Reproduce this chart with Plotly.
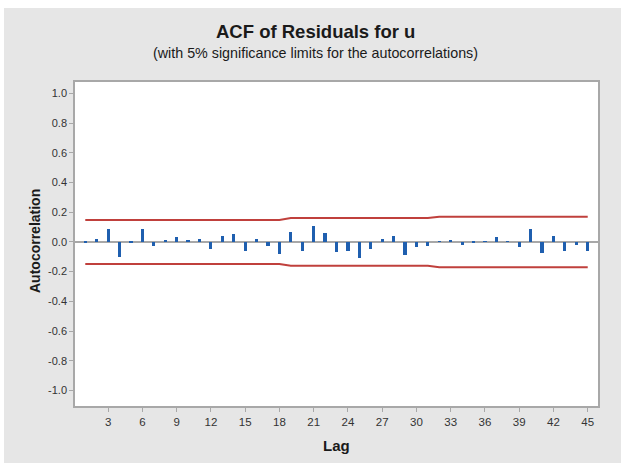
import plotly.graph_objects as go

lags = list(range(1, 46))
acf = [-0.01, 0.02, 0.09, -0.10, -0.01, 0.085, -0.03, 0.01, 0.03, 0.01,
       0.02, -0.045, 0.04, 0.055, -0.06, 0.02, -0.03, -0.08, 0.07, -0.06,
       0.11, 0.06, -0.07, -0.06, -0.11, -0.045, 0.02, 0.04, -0.09, -0.035,
       -0.03, 0.003, 0.01, -0.02, -0.01, 0.005, 0.03, 0.003, -0.035, 0.09,
       -0.075, 0.04, -0.06, -0.02, -0.06]
upper = [0.148] * 18 + [0.161] * 13 + [0.170] * 14
lower = [-v for v in upper]
x_ticks = list(range(3, 46, 3))
y_ticks = [-1.0, -0.8, -0.6, -0.4, -0.2, 0.0, 0.2, 0.4, 0.6, 0.8, 1.0]

BAR = "#1F5FAF"
RED = "#C0403C"
GRAY_BG = "#E6E6E6"
FRAME = "#A8A8A8"
FONT = "Liberation Sans, Arial, sans-serif"

fig = go.Figure()
fig.add_trace(go.Bar(x=lags, y=acf, width=0.28, marker=dict(color=BAR, line=dict(width=0)),
                     showlegend=False))
fig.add_trace(go.Scatter(x=lags, y=upper, mode="lines", line=dict(color=RED, width=2),
                         showlegend=False))
fig.add_trace(go.Scatter(x=lags, y=lower, mode="lines", line=dict(color=RED, width=2),
                         showlegend=False))

W, H = 621, 466
l, r, t, b = 75, 23, 82, 60
pw, ph = W - l - r, H - t - b
def px_x(px):
    return (px - l) / pw
def px_y(py):
    return (H - b - py) / ph

# white strips around the gray panel
for x0, x1, y0, y1 in [(-5, W + 5, -5, 8), (-5, 4, -5, H + 5), (-5, W + 5, 463, H + 5)]:
    fig.add_shape(type="rect", xref="paper", yref="paper",
                  x0=px_x(x0), x1=px_x(x1), y0=px_y(y1), y1=px_y(y0),
                  fillcolor="white", line=dict(width=0), layer="below")

fig.add_annotation(text="<b>ACF of Residuals for u</b>", xref="paper", yref="paper",
                   x=px_x(315), y=px_y(32), xanchor="center", yanchor="middle",
                   showarrow=False, font=dict(size=18.5, color="#1a1a1a", family=FONT))
fig.add_annotation(text="(with 5% significance limits for the autocorrelations)",
                   xref="paper", yref="paper",
                   x=px_x(315), y=px_y(53), xanchor="center", yanchor="middle",
                   showarrow=False, font=dict(size=14.3, color="#1a1a1a", family=FONT))
fig.add_annotation(text="<b>Lag</b>", xref="paper", yref="paper",
                   x=px_x(336), y=px_y(445), xanchor="center", yanchor="middle",
                   showarrow=False, font=dict(size=15, color="#1a1a1a", family=FONT))
fig.add_annotation(text="<b>Autocorrelation</b>", xref="paper", yref="paper",
                   x=px_x(35), y=px_y(241), xanchor="center", yanchor="middle",
                   textangle=-90, showarrow=False,
                   font=dict(size=14, color="#1a1a1a", family=FONT))

fig.update_layout(
    width=W, height=H,
    margin=dict(l=l, r=r, t=t, b=b, autoexpand=False),
    paper_bgcolor=GRAY_BG,
    plot_bgcolor="white",
    font=dict(family=FONT, color="#333333"),
    bargap=0,
    xaxis=dict(
        range=[0.1, 45.9], tickmode="array", tickvals=x_ticks,
        ticktext=[str(v) for v in x_ticks], automargin=False,
        showgrid=False, zeroline=False,
        showline=True, linecolor=FRAME, linewidth=1.5, mirror=True,
        ticks="outside", ticklen=4, tickcolor=FRAME,
        tickfont=dict(size=11.5, color="#333333"),
    ),
    yaxis=dict(
        range=[-1.105, 1.077], tickmode="array", tickvals=y_ticks,
        ticktext=[f"{v:.1f}" for v in y_ticks], automargin=False,
        showgrid=False, zeroline=True, zerolinecolor="#A8A8A8", zerolinewidth=2,
        showline=True, linecolor=FRAME, linewidth=1.5, mirror=True,
        ticks="outside", ticklen=4, tickcolor=FRAME,
        tickfont=dict(size=11, color="#333333"),
    ),
)

fig.write_html("out.html", config={"displayModeBar": False},
               post_script="document.body.style.margin='0px';document.body.style.padding='0px';")
